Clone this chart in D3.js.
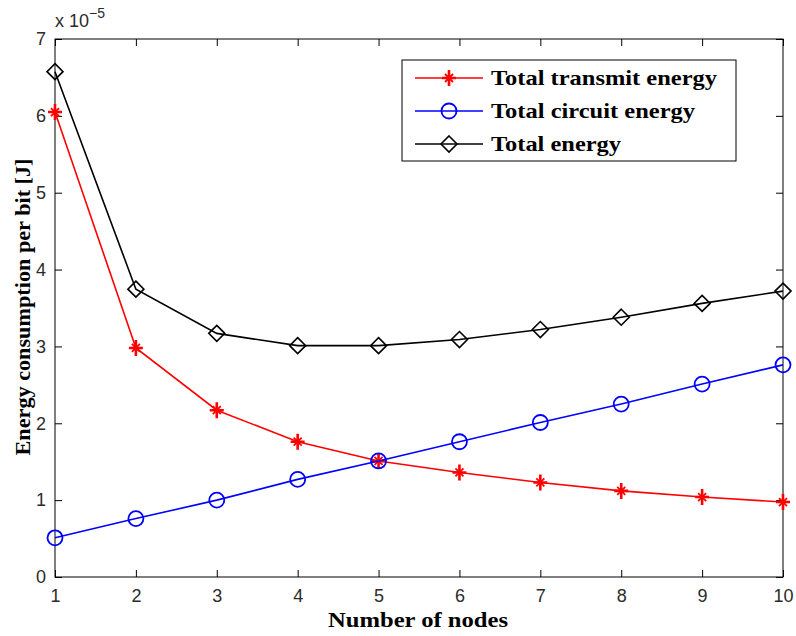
<!DOCTYPE html>
<html>
<head>
<meta charset="utf-8">
<script src="https://cdn.jsdelivr.net/npm/d3@7"></script>
<style>
  body { margin: 0; background: #fff; }
  svg { display: block; }
</style>
</head>
<body>
<div id="chart"></div>
<script>
// data (values in units of 1e-5 J)
const nodes = [1, 2, 3, 4, 5, 6, 7, 8, 9, 10];
const transmitEnergy = [6.05, 2.98, 2.17, 1.76, 1.51, 1.36, 1.23, 1.12, 1.04, 0.975];
const circuitEnergy = [0.51, 0.76, 1.0, 1.27, 1.51, 1.76, 2.01, 2.25, 2.51, 2.76];
const totalEnergy = [6.575, 3.745, 3.17, 3.01, 3.01, 3.09, 3.22, 3.38, 3.56, 3.72];
const yTicks = [0, 1, 2, 3, 4, 5, 6, 7];
const seriesNames = ["Total transmit energy", "Total circuit energy", "Total energy"];

const W = 796, H = 636;
const margin = { top: 39, right: 13, bottom: 59, left: 55 };
const width = W - margin.left - margin.right;
const height = H - margin.top - margin.bottom;

const svg = d3.select("#chart").append("svg")
    .attr("width", W).attr("height", H);
const g = svg.append("g").attr("transform", `translate(${margin.left},${margin.top})`);

const x = d3.scaleLinear().domain([1, 10]).range([0, width]);
const y = d3.scaleLinear().domain([0, 7]).range([height, 0]);

const tickColor = "#2b2b2b";
const tickFont = "Liberation Sans, Arial, sans-serif";
const serif = "Liberation Serif, Times New Roman, serif";

// frame
g.append("rect").attr("width", width).attr("height", height)
    .attr("fill", "none").attr("stroke", "#000").attr("stroke-width", 1);

// axes with inward ticks
const xAxis = g.append("g").attr("transform", `translate(0,${height})`)
    .call(d3.axisBottom(x).tickValues(nodes).tickSize(-7).tickPadding(12).tickFormat(d3.format("d")));
const xTop = g.append("g")
    .call(d3.axisTop(x).tickValues(nodes).tickSize(-7).tickFormat(""));
const yAxis = g.append("g")
    .call(d3.axisLeft(y).tickValues(yTicks).tickSize(-7).tickPadding(9).tickFormat(d3.format("d")));
const yRight = g.append("g").attr("transform", `translate(${width},0)`)
    .call(d3.axisRight(y).tickValues(yTicks).tickSize(-7).tickFormat(""));

[xAxis, xTop, yAxis, yRight].forEach(a => {
  a.select(".domain").remove();
  a.selectAll(".tick line").attr("stroke", "#000");
  a.selectAll("text").attr("font-family", tickFont).attr("font-size", 18).attr("fill", tickColor);
});
xAxis.selectAll("text").attr("dy", "0.71em");

// exponent label
svg.append("text").attr("x", margin.left).attr("y", 27)
    .attr("font-family", tickFont).attr("font-size", 18).attr("fill", tickColor)
    .text("x 10")
  .append("tspan").attr("dy", -9).attr("font-size", 14).text("\u22125");

// axis titles (stretched wide, as in the reference)
svg.append("text").attr("x", margin.left + width / 2 - 1).attr("y", 627)
    .attr("text-anchor", "middle").attr("font-family", serif)
    .attr("font-weight", "bold").attr("font-size", 20)
    .attr("textLength", 180).attr("lengthAdjust", "spacingAndGlyphs")
    .text("Number of nodes");
svg.append("text").attr("transform", `translate(30,307) rotate(-90)`)
    .attr("text-anchor", "middle").attr("font-family", serif)
    .attr("font-weight", "bold").attr("font-size", 20)
    .attr("textLength", 297).attr("lengthAdjust", "spacingAndGlyphs")
    .text("Energy consumption per bit [J]");

const line = d3.line().x((d, i) => x(nodes[i])).y(d => y(d));

const series = [
  { name: seriesNames[0], values: transmitEnergy, color: "#ff0000", marker: "star", len: 226 },
  { name: seriesNames[1], values: circuitEnergy, color: "#0000ff", marker: "circle", len: 204 },
  { name: seriesNames[2], values: totalEnergy, color: "#000000", marker: "diamond", len: 130 }
];

function drawMarker(sel, type, color) {
  if (type === "star") {
    sel.append("path").attr("d", "M-7,0H7M0,-8V8")
        .attr("stroke", color).attr("stroke-width", 2.6).attr("fill", "none");
    sel.append("path").attr("d", "M-4,-4L4,4M-4,4L4,-4")
        .attr("stroke", color).attr("stroke-width", 1.8).attr("fill", "none");
  } else if (type === "circle") {
    sel.append("circle").attr("r", 7.5).attr("fill", "none")
        .attr("stroke", color).attr("stroke-width", 1.8);
  } else {
    sel.append("path").attr("d", "M0,-8L8,0L0,8L-8,0Z").attr("fill", "none")
        .attr("stroke", color).attr("stroke-width", 1.6);
  }
}

series.forEach(s => {
  g.append("path").datum(s.values).attr("d", line)
      .attr("fill", "none").attr("stroke", s.color).attr("stroke-width", 1.6);
  g.selectAll(null).data(s.values).enter().append("g")
      .attr("transform", (d, i) => `translate(${x(nodes[i])},${y(d)})`)
      .each(function() { drawMarker(d3.select(this), s.marker, s.color); });
});

// legend
const lg = svg.append("g").attr("transform", "translate(402,60)");
lg.append("rect").attr("width", 334).attr("height", 101)
    .attr("fill", "#fff").attr("stroke", "#000").attr("stroke-width", 1);
series.forEach((s, i) => {
  const row = lg.append("g").attr("transform", `translate(0,${18 + i * 33})`);
  row.append("line").attr("x1", 13).attr("x2", 81).attr("stroke", s.color).attr("stroke-width", 1.6);
  drawMarker(row.append("g").attr("transform", "translate(47,0)"), s.marker, s.color);
  row.append("text").attr("x", 89).attr("y", 7)
      .attr("font-family", serif)
      .attr("font-weight", "bold").attr("font-size", 21)
      .attr("textLength", s.len).attr("lengthAdjust", "spacingAndGlyphs")
      .text(s.name);
});
</script>
</body>
</html>
